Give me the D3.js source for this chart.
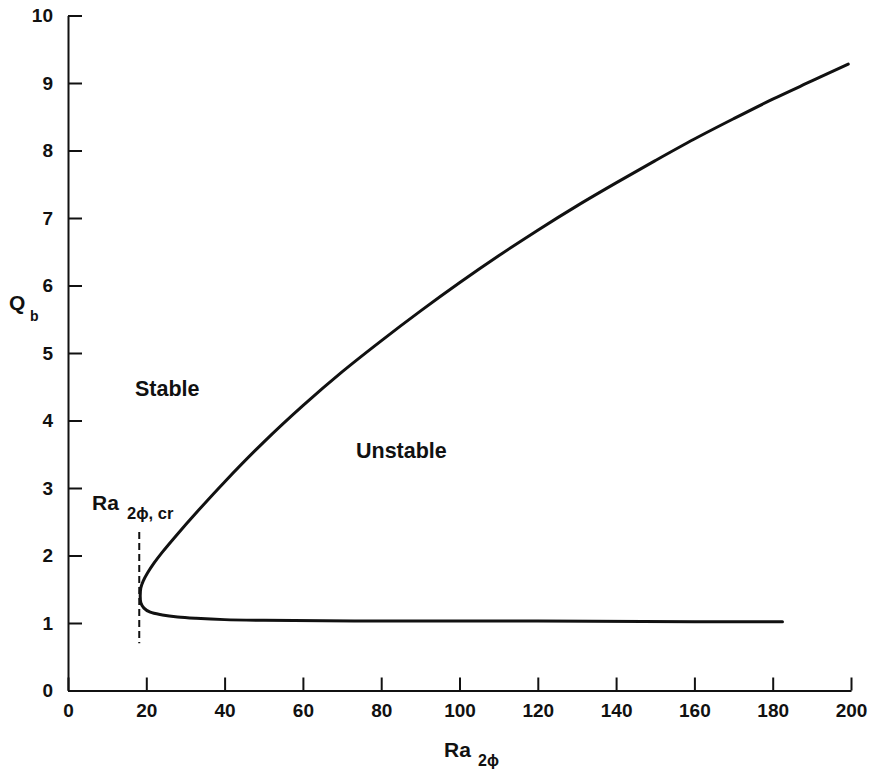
<!DOCTYPE html>
<html>
<head>
<meta charset="utf-8">
<script src="https://cdn.jsdelivr.net/npm/d3@7"></script>
<style>
  body { margin: 0; background: #fff; }
  svg text { font-family: "Liberation Sans", Arial, Helvetica, sans-serif; font-weight: bold; fill: #111; }
  .axis path, .axis line { stroke: #111; stroke-width: 2; }
  .axis text { font-size: 19px; }
</style>
</head>
<body>
<svg class="chart" width="872" height="774"></svg>
<script>
// neutral stability curve, upper branch (from the turning point upward)
var upperRa = [18.6, 19.2, 20.3, 22, 24.1, 28, 32.7, 40, 50, 60, 70, 80, 90, 100, 110, 120, 130, 140, 150, 160, 170, 180, 190, 199.3];
var upperQ  = [1.52, 1.62, 1.74, 1.89, 2.05, 2.32, 2.63, 3.09, 3.68, 4.22, 4.72, 5.18, 5.62, 6.04, 6.44, 6.82, 7.18, 7.52, 7.85, 8.17, 8.47, 8.76, 9.03, 9.28];
// lower branch (from the turning point to the right)
var lowerRa = [18.45, 18.6, 19.4, 21, 24.1, 28, 32.7, 40, 50, 80, 120, 160, 182.5];
var lowerQ  = [1.41, 1.30, 1.22, 1.16, 1.12, 1.09, 1.07, 1.05, 1.04, 1.03, 1.03, 1.02, 1.02];
// critical Rayleigh number marker
var critRa = 18.2;
var critQ = [0.7, 2.35];

var xTicks = [0, 20, 40, 60, 80, 100, 120, 140, 160, 180, 200];
var yTicks = [0, 1, 2, 3, 4, 5, 6, 7, 8, 9, 10];

(function() {
  var svg = d3.select(".chart");

  var x = d3.scaleLinear().domain([0, 200]).range([68, 851]);
  var y = d3.scaleLinear().domain([0, 10]).range([690.5, 15.5]);

  // x axis, ticks pointing inward
  svg.append("g")
    .attr("class", "axis")
    .attr("transform", "translate(0," + y(0) + ")")
    .call(d3.axisBottom(x).tickValues(xTicks).tickSizeInner(-13).tickSizeOuter(0).tickPadding(13))
    .call(function(g) { g.selectAll("text").attr("dy", "0.72em"); });

  // y axis
  svg.append("g")
    .attr("class", "axis")
    .attr("transform", "translate(" + x(0) + ",0)")
    .call(d3.axisLeft(y).tickValues(yTicks).tickSizeInner(-14).tickSizeOuter(0).tickPadding(15));

  // one path: upper branch top-down, then lower branch
  var pts = [];
  for (var i = upperRa.length - 1; i >= 0; i--) pts.push([upperRa[i], upperQ[i]]);
  for (var j = 0; j < lowerRa.length; j++) pts.push([lowerRa[j], lowerQ[j]]);

  var line = d3.line()
    .x(function(d) { return x(d[0]); })
    .y(function(d) { return y(d[1]); })
    .curve(d3.curveCatmullRom.alpha(0.5));

  svg.append("path")
    .datum(pts)
    .attr("d", line)
    .attr("fill", "none")
    .attr("stroke", "#111")
    .attr("stroke-width", 3)
    .attr("stroke-linejoin", "round")
    .attr("stroke-linecap", "round");

  // dashed critical line
  svg.append("line")
    .attr("x1", x(critRa)).attr("x2", x(critRa))
    .attr("y1", y(critQ[1])).attr("y2", y(critQ[0]))
    .attr("stroke", "#111")
    .attr("stroke-width", 2)
    .attr("stroke-dasharray", "7,4");

  // region labels
  svg.append("text").attr("x", 135).attr("y", 396).style("font-size", "21.5px").text("Stable");
  svg.append("text").attr("x", 356).attr("y", 458).style("font-size", "21.5px").text("Unstable");

  // Ra_{2phi,cr}
  var crit = svg.append("text").attr("x", 92).attr("y", 510).style("font-size", "21px");
  crit.append("tspan").text("Ra");
  crit.append("tspan").attr("x", 127).attr("y", 519).style("font-size", "16.5px").text("2\u03d5, cr");

  // axis titles
  var xt = svg.append("text").attr("x", 444).attr("y", 757).style("font-size", "21px");
  xt.append("tspan").text("Ra");
  xt.append("tspan").attr("x", 478).attr("y", 766).style("font-size", "16px").text("2\u03d5");

  var yt = svg.append("text").attr("x", 9).attr("y", 310).style("font-size", "21px");
  yt.append("tspan").text("Q");
  yt.append("tspan").attr("x", 30).attr("y", 321).style("font-size", "14px").text("b");
})();
</script>
</body>
</html>
